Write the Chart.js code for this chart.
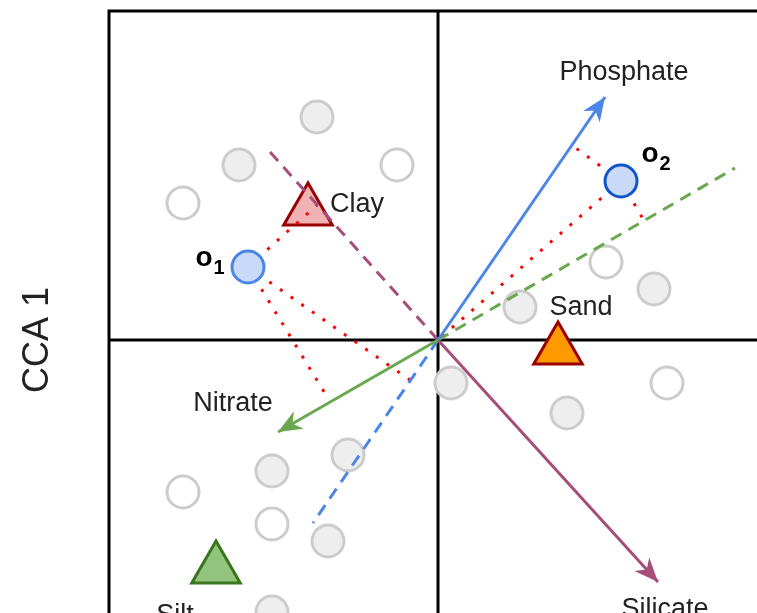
<!DOCTYPE html>
<html>
<head>
<meta charset="utf-8">
<script src="https://cdn.jsdelivr.net/npm/chart.js@4/dist/chart.umd.min.js"></script>
<style>
  html, body { margin: 0; padding: 0; overflow: hidden; background: #fff; }
</style>
</head>
<body>
<canvas id="myChart" width="757" height="613"></canvas>
<script>
// site scores (grey = filled, white = open)
var greyX = [-1.21, -1.99, 2.16, 0.82, -0.90, -1.66, -1.10, -1.66, 0.13, 1.29];
var greyY = [2.23, 1.75, 0.51, 0.33, -1.15, -1.31, -2.01, -2.72, -0.43, -0.73];
var whiteX = [-0.41, -2.55, 1.68, -2.55, -1.66, 2.29];
var whiteY = [1.75, 1.37, 0.78, -1.52, -1.84, -0.43];

// highlighted samples o1, o2
var sampleNames = ['o', 'o'];
var sampleSubs = ['1', '2'];
var sampleX = [-1.90, 1.83];
var sampleY = [0.73, 1.59];

// soil texture centroids
var soilNames = ['Clay', 'Sand', 'Silt'];
var soilX = [-1.30, 1.20, -2.22];
var soilY = [1.29, -0.10, -2.29];

// environmental vectors
var vecNames = ['Phosphate', 'Nitrate', 'Silicate'];
var vecX = [1.67, -1.60, 2.20];
var vecY = [2.43, -0.92, -2.42];

// dashed axes through origin
var axisX = [-1.68, 2.97, -1.25];
var axisY = [1.88, 1.72, -1.83];

// projection lines (from, to)
var projFromX = [-1.90, -1.90, -1.90, 1.83, 1.83, 1.83];
var projFromY = [0.73, 0.73, 0.73, 1.59, 1.59, 1.59];
var projToX = [-1.21, -1.09, -0.28, 1.35, 2.05, 0.00];
var projToY = [1.35, -0.60, -0.40, 1.94, 1.21, 0.00];

// label positions
var labelText = ['Phosphate', 'Nitrate', 'Silicate', 'Clay', 'Sand', 'Silt'];
var labelX = [1.86, -2.05, 2.27, -0.81, 1.43, -2.63];
var labelY = [2.67, -0.64, -2.70, 1.35, 0.32, -2.76];
var sampleLabelX = [-2.34, 2.12];
var sampleLabelY = [0.82, 1.86];

function pts(xs, ys) {
  var out = [];
  for (var i = 0; i < xs.length; i++) out.push({x: xs[i], y: ys[i]});
  return out;
}

var vecColors = ['#4a86e8', '#6aa84f', '#a64d79'];
var axisColors = ['#a64d79', '#6aa84f', '#4a86e8'];

var datasets = [];

// o1 / o2 on top
datasets.push({
  data: [{x: sampleX[0], y: sampleY[0]}],
  pointRadius: 16, backgroundColor: '#c9daf8', borderColor: '#4a86e8', borderWidth: 3, order: 0
});
datasets.push({
  data: [{x: sampleX[1], y: sampleY[1]}],
  pointRadius: 16, backgroundColor: '#c9daf8', borderColor: '#1155cc', borderWidth: 3, order: 0
});

// vectors (arrows)
for (var i = 0; i < vecNames.length; i++) {
  datasets.push({
    data: [{x: 0, y: 0}, {x: vecX[i], y: vecY[i]}],
    showLine: true, pointRadius: 0, borderColor: vecColors[i], borderWidth: 3,
    arrow: true, order: 1
  });
}
// dashed axes
for (var i = 0; i < axisX.length; i++) {
  datasets.push({
    data: [{x: 0, y: 0}, {x: axisX[i], y: axisY[i]}],
    showLine: true, pointRadius: 0, borderColor: axisColors[i], borderWidth: 3,
    borderDash: [12, 8], order: 1
  });
}
// dotted projections
for (var i = 0; i < projFromX.length; i++) {
  datasets.push({
    data: [{x: projFromX[i], y: projFromY[i]}, {x: projToX[i], y: projToY[i]}],
    showLine: true, pointRadius: 0, borderColor: '#ff0000', borderWidth: 3,
    borderDash: [3, 10], order: 1
  });
}
// soil triangles
datasets.push({
  data: pts(soilX, soilY),
  pointStyle: 'triangle', pointRadius: 28,
  backgroundColor: ['#f0b2b2', '#ff9900', '#93c47d'],
  borderColor: ['#990000', '#990000', '#38761d'],
  borderWidth: 3, order: 2
});
// site circles
datasets.push({
  data: pts(greyX, greyY),
  pointRadius: 16, backgroundColor: '#eeeeee', borderColor: '#cccccc', borderWidth: 3, order: 3
});
datasets.push({
  data: pts(whiteX, whiteY),
  pointRadius: 16, backgroundColor: '#ffffff', borderColor: '#cccccc', borderWidth: 3, order: 3
});

var framePlugin = {
  id: 'frame',
  beforeDatasetsDraw: function(chart) {
    var ctx = chart.ctx, a = chart.chartArea;
    var x0 = chart.scales.x.getPixelForValue(0);
    var y0 = chart.scales.y.getPixelForValue(0);
    ctx.save();
    ctx.strokeStyle = '#000';
    ctx.lineWidth = 3;
    ctx.beginPath();
    ctx.moveTo(a.left, a.bottom + 5); ctx.lineTo(a.left, a.top); ctx.lineTo(a.right + 5, a.top);
    ctx.moveTo(x0, a.top); ctx.lineTo(x0, a.bottom + 5);
    ctx.moveTo(a.left, y0); ctx.lineTo(a.right + 5, y0);
    ctx.stroke();
    ctx.restore();
  }
};

var labelPlugin = {
  id: 'labels',
  afterDatasetsDraw: function(chart) {
    var ctx = chart.ctx;
    var sx = chart.scales.x, sy = chart.scales.y;
    ctx.save();
    // arrowheads
    chart.data.datasets.forEach(function(ds, di) {
      if (!ds.arrow) return;
      var m = chart.getDatasetMeta(di).data;
      var p0 = m[0], p1 = m[1];
      var ang = Math.atan2(p1.y - p0.y, p1.x - p0.x);
      var len = 24, half = 10;
      ctx.fillStyle = ds.borderColor;
      ctx.beginPath();
      ctx.moveTo(p1.x, p1.y);
      ctx.lineTo(p1.x - len * Math.cos(ang) + half * Math.sin(ang), p1.y - len * Math.sin(ang) - half * Math.cos(ang));
      ctx.lineTo(p1.x - len * 0.7 * Math.cos(ang), p1.y - len * 0.7 * Math.sin(ang));
      ctx.lineTo(p1.x - len * Math.cos(ang) - half * Math.sin(ang), p1.y - len * Math.sin(ang) + half * Math.cos(ang));
      ctx.closePath();
      ctx.fill();
    });
    // text labels
    ctx.fillStyle = '#222';
    ctx.textAlign = 'center';
    ctx.textBaseline = 'middle';
    ctx.font = '27px "Liberation Sans", Arial, sans-serif';
    for (var i = 0; i < labelText.length; i++) {
      ctx.fillText(labelText[i], sx.getPixelForValue(labelX[i]), sy.getPixelForValue(labelY[i]));
    }
    for (var i = 0; i < sampleNames.length; i++) {
      var px = sx.getPixelForValue(sampleLabelX[i]), py = sy.getPixelForValue(sampleLabelY[i]);
      ctx.fillStyle = '#000';
      ctx.font = 'bold 28px "Liberation Sans", Arial, sans-serif';
      ctx.fillText(sampleNames[i], px, py);
      ctx.font = 'bold 20px "Liberation Sans", Arial, sans-serif';
      ctx.fillText(sampleSubs[i], px + 15, py + 10);
    }
    // axis title
    ctx.fillStyle = '#222';
    ctx.font = '36px "Liberation Sans", Arial, sans-serif';
    ctx.translate(38, sy.getPixelForValue(0));
    ctx.rotate(-Math.PI / 2);
    ctx.fillText('CCA 1', 0, 0);
    ctx.restore();
  }
};

var config = {
  type: 'scatter',
  data: { datasets: datasets },
  options: {
    responsive: false,
    animation: false,
    layout: { autoPadding: false, padding: { left: 109, top: 11, right: 0, bottom: 0 } },
    scales: {
      x: { type: 'linear', display: false, min: -3.29, max: 3.19 },
      y: { type: 'linear', display: false, min: -2.73, max: 3.29 }
    },
    plugins: {
      legend: { display: false },
      tooltip: { enabled: false }
    }
  },
  plugins: [framePlugin, labelPlugin]
};
var ctx = document.getElementById("myChart").getContext("2d");
var myChart = new Chart(ctx, config);
</script>
</body>
</html>
